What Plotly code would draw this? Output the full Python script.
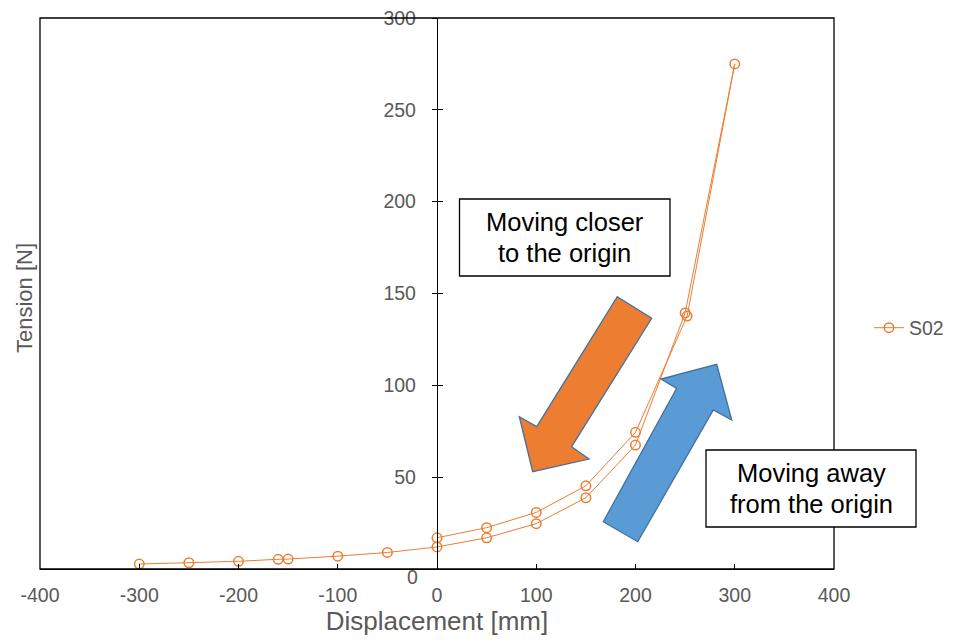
import plotly.graph_objects as go

# ---- data ----
displacement = [-300, -250, -200, -160, -150, -100, -50, 0, 50, 100, 150, 200, 250, 300,
                252, 200, 150, 100, 50, 0]
tension = [2.7, 3.4, 4.2, 5.3, 5.4, 7.0, 9.0, 12.0, 17.0, 24.7, 38.8, 67.5, 139.4, 275.0,
           137.7, 74.4, 45.3, 30.8, 22.5, 17.0]
series_name = "S02"
x_ticks = [-400, -300, -200, -100, 0, 100, 200, 300, 400]
x_tick_labels = ["-400", "-300", "-200", "-100", "0", "100", "200", "300", "400"]
y_ticks = [50, 100, 150, 200, 250, 300]

ORANGE = "#ED7D31"
BLUE = "#5B9BD5"
EDGE = "#41719C"
GRAY = "#595959"
FONT = "Liberation Sans, Arial, sans-serif"

# page layout (the page body adds an 8px offset)
OFF = 8
W, H = 954 - OFF, 640 - OFF
PL, PR, PT, PB = 40, 834, 18, 569          # plot-area edges in page pixels
ML, MT = PL - OFF, PT - OFF
MR, MB = W - (PR - OFF), H - (PB - OFF)


def px(x):
    return (x - PL) / (PR - PL)


def py(y):
    return (PB - y) / (PB - PT)


def path(points):
    return "M " + " L ".join(f"{px(a):.4f},{py(b):.4f}" for a, b in points) + " Z"


fig = go.Figure()
fig.add_trace(go.Scatter(
    x=displacement, y=tension, name=series_name, mode="lines+markers",
    line=dict(color=ORANGE, width=1),
    marker=dict(symbol="circle-open", size=9.5, color=ORANGE, line=dict(width=1.5, color=ORANGE)),
    showlegend=True,
))
# helper overlay axis for the inside half of the crossing ticks
fig.add_trace(go.Scatter(x=[None], y=[None], yaxis="y2", showlegend=False, hoverinfo="skip"))

orange_arrow = [(617.3, 296.7), (651.7, 318.3), (571.7, 446.7), (589, 459),
                (532.7, 471.7), (519.3, 416.7), (536.7, 426.7)]
blue_arrow = [(603.3, 521.7), (637.7, 541.7), (713.3, 410), (731.7, 420),
              (716.7, 364.3), (661, 379), (676.7, 388.3)]

shapes = [
    dict(type="rect", xref="paper", yref="paper", x0=0, x1=1, y0=0, y1=1,
         line=dict(color="black", width=1.3), layer="above"),
    dict(type="path", xref="paper", yref="paper", path=path(orange_arrow),
         fillcolor=ORANGE, line=dict(color=EDGE, width=1.3), layer="above"),
    dict(type="path", xref="paper", yref="paper", path=path(blue_arrow),
         fillcolor=BLUE, line=dict(color=EDGE, width=1.3), layer="above"),
    dict(type="rect", xref="paper", yref="paper", x0=px(459.5), x1=px(670), y0=py(276), y1=py(199),
         fillcolor="white", line=dict(color="black", width=1.3), layer="above"),
    dict(type="rect", xref="paper", yref="paper", x0=px(706), x1=px(916), y0=py(527), y1=py(450),
         fillcolor="white", line=dict(color="black", width=1.3), layer="above"),
]

box_font = dict(family=FONT, size=25.5, color="black")


def label(text, x, y, **kw):
    d = dict(text=text, x=px(x), y=py(y), xref="paper", yref="paper",
             xanchor="center", yanchor="middle", showarrow=False, font=box_font)
    d.update(kw)
    return d


annotations = [
    label("Moving closer", 564.5, 222),
    label("to the origin", 564.5, 253),
    label("Moving away", 811, 473),
    label("from the origin", 811, 504),
    label("Tension [N]", 24, 298, textangle=-90, font=dict(family=FONT, size=22, color=GRAY)),
    dict(text="0", x=0, y=0, xref="x", yref="y", xanchor="right", yanchor="middle",
         xshift=-17, yshift=-8, showarrow=False, font=dict(family=FONT, size=19.5, color=GRAY)),
]

fig.update_layout(
    width=W, height=H,
    margin=dict(l=ML, r=MR, t=MT, b=MB, autoexpand=False),
    paper_bgcolor="white", plot_bgcolor="white",
    font=dict(family=FONT, color=GRAY),
    xaxis=dict(range=[-400, 400], tickvals=x_ticks, ticktext=x_tick_labels,
               ticks="inside", ticklen=5, automargin=False, ticklabeloverflow="allow",
               tickcolor="black", tickwidth=1.3, showline=True, linecolor="black", linewidth=1.3,
               showgrid=False, zeroline=False, tickfont=dict(size=19.5, color=GRAY),
               ticklabelstandoff=8,
               title=dict(text="Displacement [mm]", font=dict(size=26, color=GRAY), standoff=6)),
    yaxis=dict(range=[0, 300], tickvals=y_ticks, ticks="outside", ticklen=5, automargin=False,
               ticklabeloverflow="allow",
               tickcolor="black", tickwidth=1.3, showline=True, linecolor="black", linewidth=1.3,
               showgrid=False, zeroline=False, anchor="free", position=0.5,
               tickfont=dict(size=19.5, color=GRAY), ticklabelstandoff=12),
    yaxis2=dict(range=[0, 300], tickvals=y_ticks, ticks="inside", ticklen=5, automargin=False,
                tickcolor="black", tickwidth=1.3, showticklabels=False, showline=False,
                showgrid=False, zeroline=False, anchor="free", position=0.5, overlaying="y"),
    legend=dict(x=px(869), y=py(328), xanchor="left", yanchor="middle",
                font=dict(size=19.5, color=GRAY), bgcolor="rgba(0,0,0,0)"),
    shapes=shapes,
    annotations=annotations,
)

fig.write_html("out.html")
